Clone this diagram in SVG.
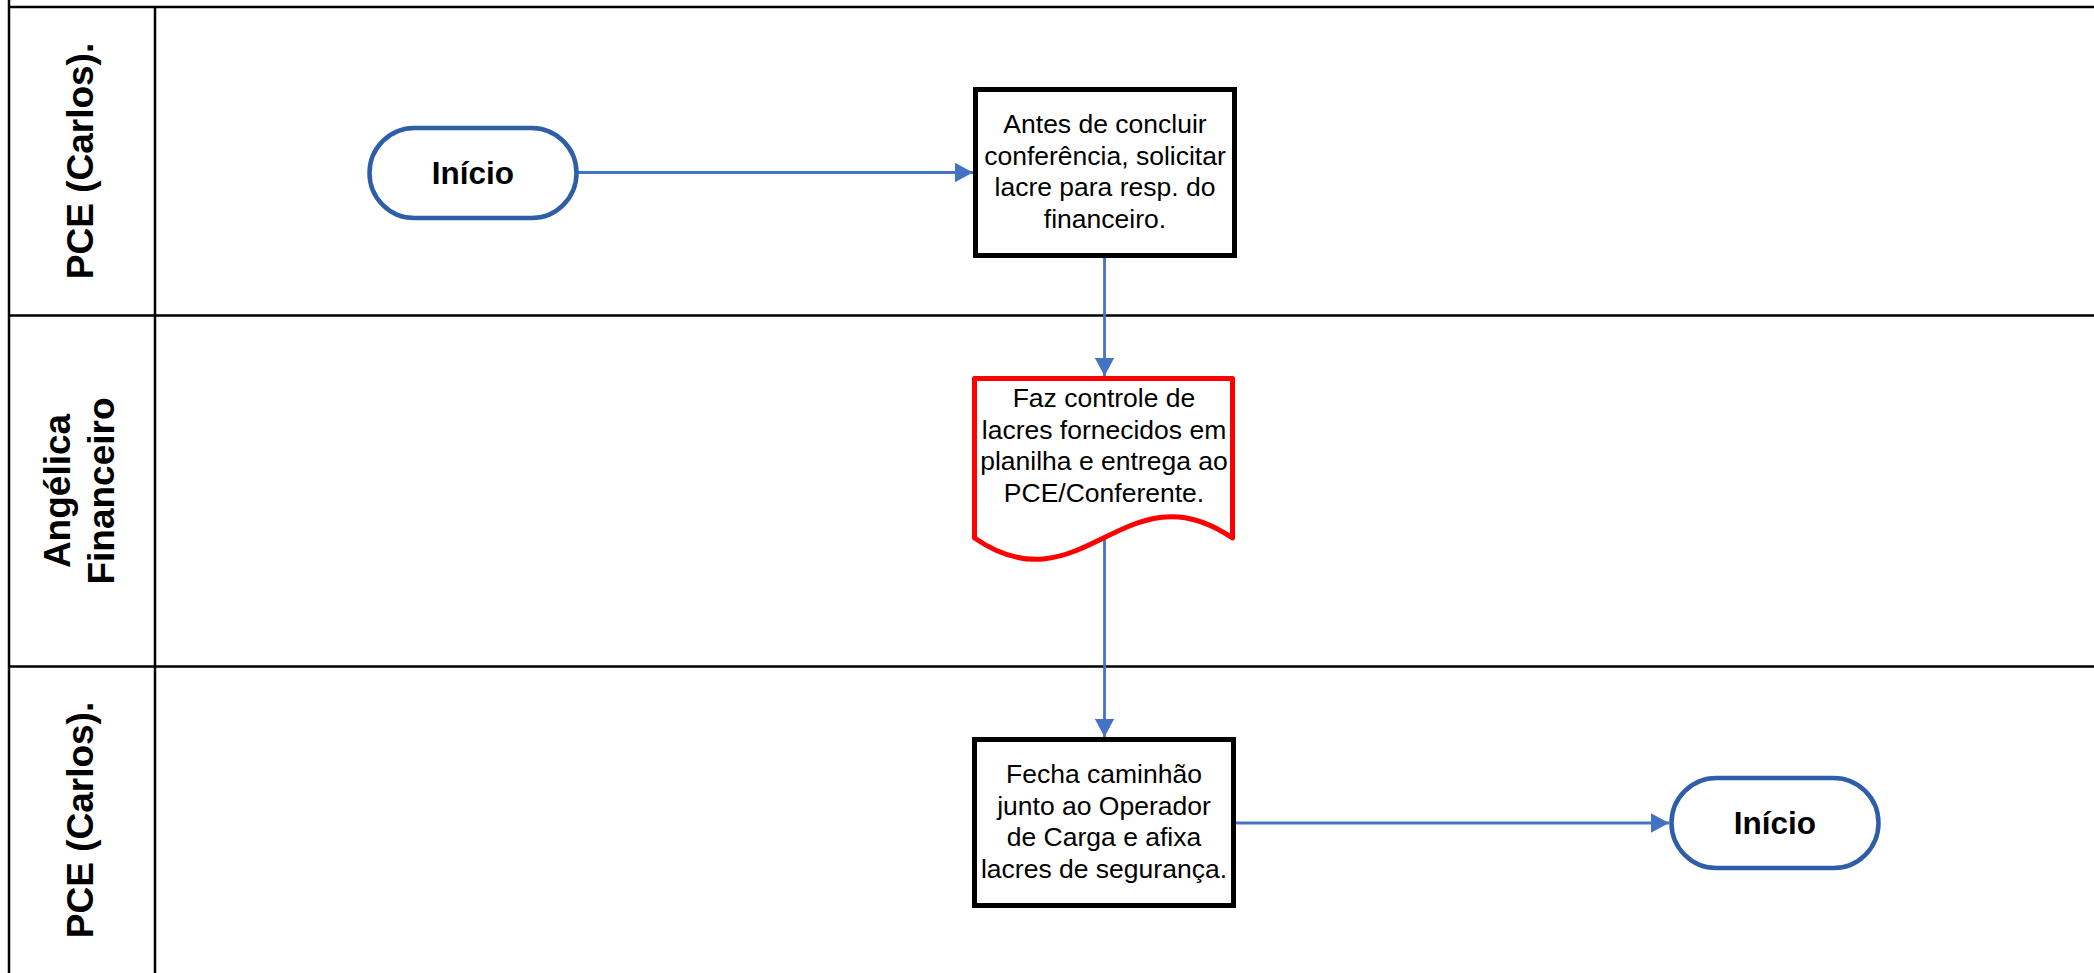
<svg xmlns="http://www.w3.org/2000/svg" width="2094" height="973" viewBox="0 0 2094 973">
<style>
.lane{stroke:#000;stroke-width:2.5;fill:none}
.lbl{font-family:"Liberation Sans",Arial,sans-serif;font-weight:bold;font-size:37px;fill:#000;text-anchor:middle}
.txt{font-family:"Liberation Sans",Arial,sans-serif;font-size:26.5px;fill:#000;text-anchor:middle}
.term{fill:#fff;stroke:#2E5EA8;stroke-width:4.5}
.termtxt{font-family:"Liberation Sans",Arial,sans-serif;font-weight:bold;font-size:31.5px;fill:#000;text-anchor:middle}
.proc{fill:#fff;stroke:#000;stroke-width:5}
.doc{fill:#fff;stroke:#FF0000;stroke-width:5;stroke-linejoin:round}
.conn{stroke:#4472C4;stroke-width:2.8;fill:none}
</style>
<defs>
<marker id="arr" markerWidth="7" markerHeight="7" refX="6.5" refY="3.5" orient="auto" markerUnits="strokeWidth">
<path d="M0,0 L6.5,3.5 L0,7 Z" fill="#4472C4"/>
</marker>
</defs>
<rect x="0" y="0" width="2094" height="973" fill="#fff"/>
<g id="lanes">
<line class="lane" x1="9" y1="0" x2="9" y2="973"/>
<line class="lane" x1="155" y1="7" x2="155" y2="973"/>
<line class="lane" x1="9" y1="7" x2="2094" y2="7"/>
<line class="lane" x1="9" y1="315.5" x2="2094" y2="315.5"/>
<line class="lane" x1="9" y1="666.5" x2="2094" y2="666.5"/>
<text class="lbl" transform="rotate(-90 93 161)" x="93" y="161">PCE (Carlos).</text>
<text class="lbl" transform="rotate(-90 70 491)" x="70" y="491">Angélica</text>
<text class="lbl" transform="rotate(-90 114 491)" x="114" y="491">Financeiro</text>
<text class="lbl" transform="rotate(-90 93 820)" x="93" y="820">PCE (Carlos).</text>
</g>
<g id="connectors">
<line class="conn" x1="578" y1="172.5" x2="973" y2="172.5" marker-end="url(#arr)"/>
<line class="conn" x1="1104.5" y1="258" x2="1104.5" y2="376" marker-end="url(#arr)"/>
<line class="conn" x1="1104.5" y1="538" x2="1104.5" y2="737" marker-end="url(#arr)"/>
<line class="conn" x1="1236" y1="823" x2="1669" y2="823" marker-end="url(#arr)"/>
</g>
<g id="start">
<rect class="term" x="369.5" y="128" width="207" height="90" rx="45" ry="45"/>
<text class="termtxt" x="473" y="183.5">Início</text>
</g>
<g id="box1">
<rect class="proc" x="975.5" y="89.5" width="259" height="166"/>
<text class="txt" x="1105" y="133">Antes de concluir</text>
<text class="txt" x="1105" y="164.7">conferência, solicitar</text>
<text class="txt" x="1105" y="196.3">lacre para resp. do</text>
<text class="txt" x="1105" y="228">financeiro.</text>
</g>
<g id="doc">
<path class="doc" d="M974.5,378.5 H1232.5 V538 C1125,464 1082,612 974.5,538 Z"/>
<text class="txt" x="1104" y="407">Faz controle de</text>
<text class="txt" x="1104" y="438.7">lacres fornecidos em</text>
<text class="txt" x="1104" y="470.3">planilha e entrega ao</text>
<text class="txt" x="1104" y="502">PCE/Conferente.</text>
</g>
<g id="box3">
<rect class="proc" x="974.5" y="739.5" width="259" height="166"/>
<text class="txt" x="1104" y="783">Fecha caminhão</text>
<text class="txt" x="1104" y="814.7">junto ao Operador</text>
<text class="txt" x="1104" y="846.3">de Carga e afixa</text>
<text class="txt" x="1104" y="878">lacres de segurança.</text>
</g>
<g id="end">
<rect class="term" x="1671.5" y="778" width="207" height="90" rx="45" ry="45"/>
<text class="termtxt" x="1775" y="833.5">Início</text>
</g>
</svg>
